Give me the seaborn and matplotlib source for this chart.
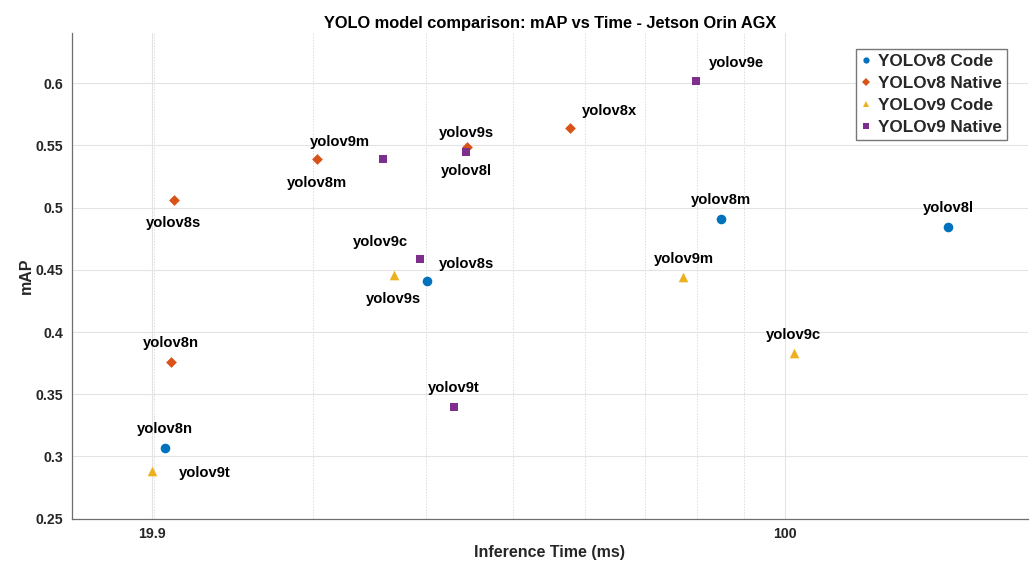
import numpy as np
import pandas as pd
import matplotlib
matplotlib.use("Agg")
import matplotlib.pyplot as plt
from matplotlib.lines import Line2D
import seaborn as sns

# --- data -----------------------------------------------------------------
v8_code_models = ["yolov8n", "yolov8s", "yolov8m", "yolov8l"]
v8_code_time = [20.6, 40.1, 84.9, 151.6]
v8_code_map = [0.307, 0.441, 0.491, 0.484]

v8_native_models = ["yolov8n", "yolov8s", "yolov8m", "yolov8l", "yolov8x"]
v8_native_time = [20.9, 21.05, 30.3, 44.5, 57.8]
v8_native_map = [0.376, 0.506, 0.539, 0.549, 0.564]

v9_code_models = ["yolov9t", "yolov9s", "yolov9m", "yolov9c"]
v9_code_time = [19.9, 36.9, 77.2, 102.2]
v9_code_map = [0.288, 0.446, 0.444, 0.383]

v9_native_models = ["yolov9t", "yolov9s", "yolov9m", "yolov9c", "yolov9e"]
v9_native_time = [43.0, 44.4, 35.9, 39.4, 79.8]
v9_native_map = [0.340, 0.545, 0.539, 0.459, 0.602]

series_names = ["YOLOv8 Code", "YOLOv8 Native", "YOLOv9 Code", "YOLOv9 Native"]

x_ticks = [19.9, 100]
x_tick_labels = ["19.9", "100"]
y_ticks = [0.25, 0.3, 0.35, 0.4, 0.45, 0.5, 0.55, 0.6]
y_tick_labels = ["0.25", "0.3", "0.35", "0.4", "0.45", "0.5", "0.55", "0.6"]

# --- styling ----------------------------------------------------------------
palette = {"YOLOv8 Code": "#0072BD", "YOLOv8 Native": "#D95319",
           "YOLOv9 Code": "#EDB120", "YOLOv9 Native": "#7E2F8E"}
markers = {"YOLOv8 Code": "o", "YOLOv8 Native": "D",
           "YOLOv9 Code": "^", "YOLOv9 Native": "s"}
marker_sizes = {"YOLOv8 Code": 48, "YOLOv8 Native": 30,
                "YOLOv9 Code": 48, "YOLOv9 Native": 26}

# label placement per point: (dx px, dy px upward, horizontal alignment)
label_place = {
    ("YOLOv8 Code", "yolov8n"): (0, 19, "center"),
    ("YOLOv8 Code", "yolov8s"): (12, 17, "left"),
    ("YOLOv8 Code", "yolov8m"): (0, 19, "center"),
    ("YOLOv8 Code", "yolov8l"): (0, 19, "center"),
    ("YOLOv8 Native", "yolov8n"): (0, 19, "center"),
    ("YOLOv8 Native", "yolov8s"): (0, -23, "center"),
    ("YOLOv8 Native", "yolov8m"): (0, -24, "center"),
    ("YOLOv8 Native", "yolov8l"): (-1, -24, "center"),
    ("YOLOv8 Native", "yolov8x"): (12, 17, "left"),
    ("YOLOv9 Code", "yolov9t"): (27, -2, "left"),
    ("YOLOv9 Code", "yolov9s"): (0, -24, "center"),
    ("YOLOv9 Code", "yolov9m"): (0, 18, "center"),
    ("YOLOv9 Code", "yolov9c"): (0, 18, "center"),
    ("YOLOv9 Native", "yolov9t"): (0, 19, "center"),
    ("YOLOv9 Native", "yolov9s"): (0, 19, "center"),
    ("YOLOv9 Native", "yolov9m"): (-13, 17, "right"),
    ("YOLOv9 Native", "yolov9c"): (-12, 17, "right"),
    ("YOLOv9 Native", "yolov9e"): (12, 18, "left"),
}

frames = []
for name, models, times, maps in zip(
        series_names,
        [v8_code_models, v8_native_models, v9_code_models, v9_native_models],
        [v8_code_time, v8_native_time, v9_code_time, v9_native_time],
        [v8_code_map, v8_native_map, v9_code_map, v9_native_map]):
    frames.append(pd.DataFrame({"time": times, "mAP": maps,
                                "series": name, "model": models}))
df = pd.concat(frames, ignore_index=True)

sns.set_style("white")
plt.rcParams["font.family"] = ["Liberation Sans", "DejaVu Sans"]
plt.rcParams["font.weight"] = "bold"

fig = plt.figure(figsize=(10.3, 5.64), dpi=100)
ax = fig.add_axes([0.0696, 0.0803, 0.9285, 0.8606])

for name in series_names:
    sub = df[df["series"] == name]
    sns.scatterplot(data=sub, x="time", y="mAP", color=palette[name],
                    marker=markers[name], s=marker_sizes[name],
                    linewidth=0, ax=ax, zorder=3, legend=False)

px = 0.72  # points per pixel at 100 dpi
for _, row in df.iterrows():
    dx, dy, ha = label_place[(row["series"], row["model"])]
    ax.annotate(row["model"], (row["time"], row["mAP"]),
                xytext=(dx * px, dy * px), textcoords="offset points",
                ha=ha, va="center", fontsize=10.6, fontweight="bold",
                color="black", zorder=4)

ax.set_xscale("log")
ax.set_xlim(16.23, 185.8)
ax.set_ylim(0.25, 0.64)
ax.set_xticks(x_ticks)
ax.set_xticklabels(x_tick_labels)
ax.set_xticks([20, 30, 40, 50, 60, 70, 80, 90], minor=True)
ax.xaxis.set_minor_formatter(matplotlib.ticker.NullFormatter())
ax.set_yticks(y_ticks)
ax.set_yticklabels(y_tick_labels)

ax.grid(True, which="major", axis="both", color="#e3e3e3", lw=0.8, ls="-")
ax.grid(True, which="minor", axis="x", color="#dcdcdc", lw=0.7, ls=(0, (1.5, 1.5)))
ax.set_axisbelow(True)

for side in ["top", "right"]:
    ax.spines[side].set_visible(False)
for side in ["left", "bottom"]:
    ax.spines[side].set_color("#6e6e6e")
    ax.spines[side].set_linewidth(0.9)

ax.tick_params(axis="both", which="major", direction="in", length=6.3,
               width=0.8, color="#6e6e6e", labelsize=10.2, labelcolor="#262626",
               pad=6)
ax.tick_params(axis="x", which="minor", direction="in", length=3.1,
               width=0.7, color="#6e6e6e")
for lab in ax.get_xticklabels() + ax.get_yticklabels():
    lab.set_fontweight("bold")

ax.set_xlabel("Inference Time (ms)", fontsize=11.5, fontweight="bold",
              color="#262626", labelpad=3)
ax.set_ylabel("mAP", fontsize=11.5, fontweight="bold", color="#262626",
              labelpad=1)
ax.set_title("YOLO model comparison: mAP vs Time - Jetson Orin AGX",
             fontsize=11.8, fontweight="bold", color="black", pad=4)

handles = [Line2D([], [], ls="none", marker=markers[n], color=palette[n],
                  markersize=4.5 if markers[n] in ("o", "^") else 3.8,
                  markeredgewidth=0) for n in series_names]
leg = ax.legend(handles, series_names, loc="upper right",
                bbox_to_anchor=(0.9777, 0.967), borderaxespad=0,
                frameon=True, fancybox=False, edgecolor="#555555",
                fontsize=12.3, handlelength=0.5, handletextpad=0.45,
                labelspacing=0.4, borderpad=0.3)
leg.get_frame().set_linewidth(1.0)
for t in leg.get_texts():
    t.set_fontweight("bold")

fig.savefig("out.png", dpi=100)
